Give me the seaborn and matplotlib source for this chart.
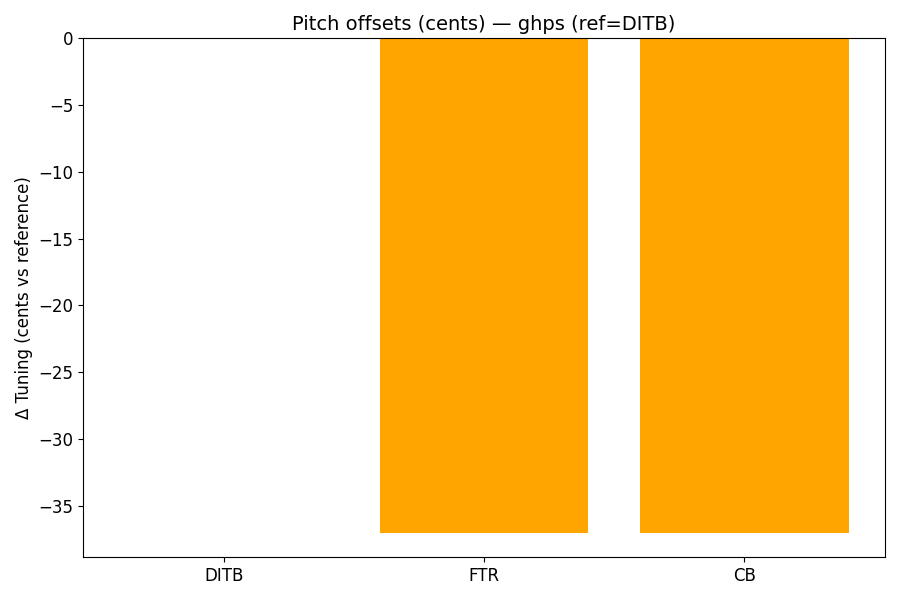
import matplotlib
matplotlib.use('Agg')
import matplotlib.pyplot as plt
import seaborn as sns
import pandas as pd

labels = ['DITB', 'FTR', 'CB']
offsets = [0.0, -37.0, -37.0]

df = pd.DataFrame({'label': labels, 'offset': offsets})

fig, ax = plt.subplots(figsize=(9, 6), dpi=100)
sns.barplot(data=df, x='label', y='offset', color='orange', saturation=1, width=0.8, ax=ax)
ax.set_xlim(-0.54, 2.54)
ax.set_ylim(min(offsets) * 1.05, 0)
ax.set_title('Pitch offsets (cents) — ghps (ref=DITB)', fontsize=14)
ax.set_xlabel('')
ax.set_ylabel('Δ Tuning (cents vs reference)', fontsize=12)
ax.tick_params(labelsize=12)
plt.tight_layout()
plt.savefig('out.png')
